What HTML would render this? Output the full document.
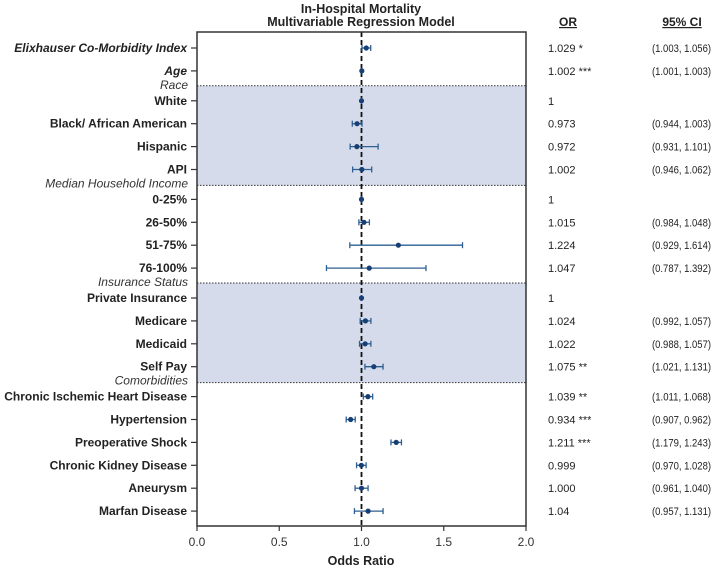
<!DOCTYPE html>
<html><head><meta charset="utf-8"><style>
body{margin:0;background:#fff;}
svg{display:block;font-family:"Liberation Sans",Arial,sans-serif;}
</style></head><body>
<svg id="c" width="713" height="570"></svg>
<script>
const labels=["Elixhauser Co-Morbidity Index","Age","White","Black/ African American","Hispanic","API","0-25%","26-50%","51-75%","76-100%","Private Insurance","Medicare","Medicaid","Self Pay","Chronic Ischemic Heart Disease","Hypertension","Preoperative Shock","Chronic Kidney Disease","Aneurysm","Marfan Disease"];
const orVals=[1.029,1.002,1,0.973,0.972,1.002,1,1.015,1.224,1.047,1,1.024,1.022,1.075,1.039,0.934,1.211,0.999,1.000,1.04];
const ciLow=[1.003,1.001,1,0.944,0.931,0.946,1,0.984,0.929,0.787,1,0.992,0.988,1.021,1.011,0.907,1.179,0.970,0.961,0.957];
const ciHigh=[1.056,1.003,1,1.003,1.101,1.062,1,1.048,1.614,1.392,1,1.057,1.057,1.131,1.068,0.962,1.243,1.028,1.040,1.131];
const orText=["1.029 *","1.002 ***","1","0.973","0.972","1.002","1","1.015","1.224","1.047","1","1.024","1.022","1.075 **","1.039 **","0.934 ***","1.211 ***","0.999","1.000","1.04"];
const ciText=["(1.003, 1.056)","(1.001, 1.003)","","(0.944, 1.003)","(0.931, 1.101)","(0.946, 1.062)","","(0.984, 1.048)","(0.929, 1.614)","(0.787, 1.392)","","(0.992, 1.057)","(0.988, 1.057)","(1.021, 1.131)","(1.011, 1.068)","(0.907, 0.962)","(1.179, 1.243)","(0.970, 1.028)","(0.961, 1.040)","(0.957, 1.131)"];
const groupStart=[2,6,10,14];
const groupNames=["Race","Median Household Income","Insurance Status","Comorbidities"];
const xTicks=[0,0.5,1,1.5,2];
const italicBold=[0,1];

const NS="http://www.w3.org/2000/svg";
const svg=document.getElementById('c');
const L=197,R=526,T=32,B=526;
const x=v=>L+(v/2)*(R-L);
const y=i=>{let g=groupStart.filter(s=>s<=i).length;return 48+22.9*i+7*g;};
function el(t,a,txt){const e=document.createElementNS(NS,t);for(const k in a)e.setAttribute(k,a[k]);if(txt!==undefined)e.textContent=txt;svg.appendChild(e);return e;}
[[0,1],[2,3]].forEach(([a,b])=>{
  const top=y(groupStart[a])-15,bot=y(groupStart[b])-14;
  const r=el('rect',{x:L,y:top,width:R-L,height:bot-top,fill:'#d5dbea'});
  
  [top,bot].forEach(yy=>{const l=el('line',{x1:L,x2:R,y1:yy,y2:yy,stroke:'#333','stroke-width':1,'stroke-dasharray':'1.5,1.5'});
  });
});
const rl=el('line',{x1:x(1),x2:x(1),y1:T,y2:B,stroke:'#111','stroke-width':1.8,'stroke-dasharray':'5,3'});

const fr=el('rect',{x:L,y:T,width:R-L,height:B-T,fill:'none',stroke:'#333','stroke-width':1.5});

const t1=el('text',{x:361,y:13,'text-anchor':'middle','font-size':12.5,'font-weight':'bold',fill:'#222'},'In-Hospital Mortality');

const t2=el('text',{x:361,y:26,'text-anchor':'middle','font-size':12.5,'font-weight':'bold',fill:'#222'},'Multivariable Regression Model');

const h1=el('text',{x:568,y:26,'text-anchor':'middle','font-size':12,'font-weight':'bold',fill:'#222','text-decoration':'underline'},'OR');

const h2=el('text',{x:682,y:26,'text-anchor':'middle','font-size':12,'font-weight':'bold',fill:'#222','text-decoration':'underline'},'95% CI');

groupStart.forEach((s,k)=>{const g=el('text',{x:188,y:y(s)-12,'text-anchor':'end','font-size':12,'font-style':'italic',fill:'#333'},groupNames[k]);
});
labels.forEach((lab,i)=>{
  const yy=y(i);
  const t=el('text',{x:187,y:yy+4,'text-anchor':'end','font-size':12,'font-weight':'bold',fill:'#222','font-style':italicBold.includes(i)?'italic':'normal'},lab);
  
  const tk=el('line',{x1:191,x2:L,y1:yy,y2:yy,stroke:'#333','stroke-width':1.2});
  
  const ci=el('line',{x1:x(ciLow[i]),x2:x(ciHigh[i]),y1:yy,y2:yy,stroke:'#2e5f93','stroke-width':1.3});
  
  [ciLow[i],ciHigh[i]].forEach(v=>{const c=el('line',{x1:x(v),x2:x(v),y1:yy-3,y2:yy+3,stroke:'#2e5f93','stroke-width':1.3});
  });
  const p=el('circle',{cx:x(orVals[i]),cy:yy,r:2.6,fill:'#173f73'});
  
  const o=el('text',{x:548,y:yy+4,'font-size':11,fill:'#222'},orText[i]);
  
  if(ciText[i]){
    const c2=el('text',{x:652,y:yy+4,'font-size':11,fill:'#222',textLength:59,lengthAdjust:'spacingAndGlyphs'},ciText[i]);
    
  }
});
xTicks.forEach(v=>{
  const tk=el('line',{x1:x(v),x2:x(v),y1:B,y2:B+5,stroke:'#333','stroke-width':1.2});
  
  const t=el('text',{x:x(v),y:B+20,'text-anchor':'middle','font-size':12,fill:'#333'},v.toFixed(1));
  
});
const xt=el('text',{x:361,y:565,'text-anchor':'middle','font-size':12.5,'font-weight':'bold',fill:'#222'},'Odds Ratio');

</script>
</body></html>
